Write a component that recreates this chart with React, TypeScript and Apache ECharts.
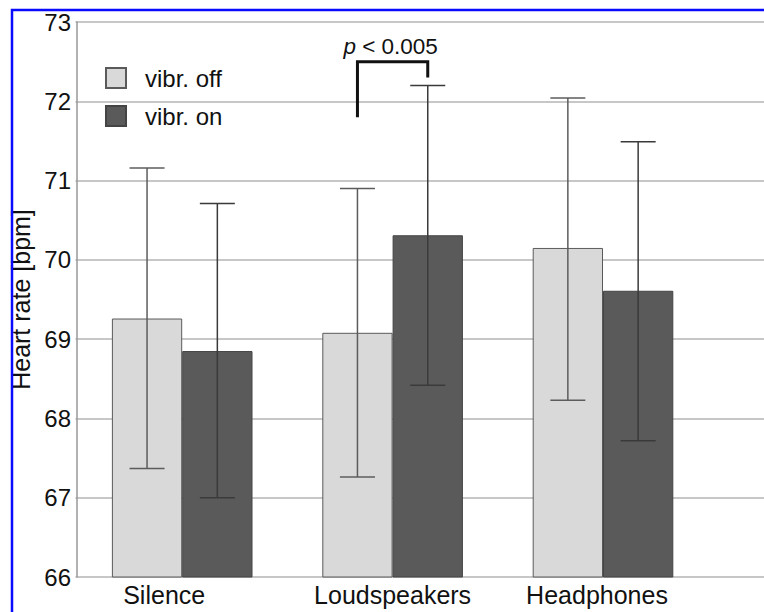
import React, { useEffect, useRef } from "react";
import * as echarts from "echarts";

const categories = ["Silence", "Loudspeakers", "Headphones"];
const seriesNames = ["vibr. off", "vibr. on"];
const offMean = [69.26, 69.08, 70.15];
const offLow = [67.37, 67.26, 68.23];
const offHigh = [71.16, 70.9, 72.04];
const onMean = [68.85, 70.31, 69.61];
const onLow = [67.0, 68.42, 67.72];
const onHigh = [70.71, 72.2, 71.49];
const yMin = 66;
const yMax = 73;
const yInterval = 1;
// significance bracket: category index, left foot, right foot, top level
const bracketData = [[1, 71.8, 72.3, 72.5]];
const bracketLabel = "p < 0.005";

const FONT = "'Liberation Sans', Arial, sans-serif";
const BAR_W = 70.3;
const labelShift: Record<string, number> = { Silence: -18, Loudspeakers: 0, Headphones: -6 };

export default function App() {
  const ref = useRef<HTMLDivElement>(null);
  useEffect(() => {
    if (!ref.current) return;
    const chart = echarts.init(ref.current, undefined, { renderer: "svg" });

    const errSeries = (low: number[], high: number[], offset: number, color: string) => ({
      type: "custom",
      xAxisIndex: 0,
      yAxisIndex: 0,
      z: 5,
      clip: false,
      silent: true,
      encode: { x: 0, y: [1, 2] },
      data: low.map((l, i) => [i, l, high[i]]),
      renderItem: (params: any, api: any) => {
        const top = api.coord([api.value(0), api.value(2)]);
        const bot = api.coord([api.value(0), api.value(1)]);
        const cx = top[0] + offset;
        const cap = 17.5;
        const st = { stroke: color, lineWidth: 1.5 };
        return {
          type: "group",
          children: [
            { type: "line", shape: { x1: cx, y1: top[1], x2: cx, y2: bot[1] }, style: st },
            { type: "line", shape: { x1: cx - cap, y1: top[1], x2: cx + cap, y2: top[1] }, style: st },
            { type: "line", shape: { x1: cx - cap, y1: bot[1], x2: cx + cap, y2: bot[1] }, style: st },
          ],
        };
      },
    });

    const rich: Record<string, any> = {};
    categories.forEach((c) => {
      const s = labelShift[c] || 0;
      rich[c] = {
        fontSize: 25,
        fontFamily: FONT,
        color: "#111",
        padding: s < 0 ? [0, -2 * s, 0, 0] : [0, 0, 0, 2 * s],
      };
    });

    chart.setOption({
      animation: false,
      backgroundColor: "#fff",
      graphic: [
        {
          type: "rect",
          silent: true,
          z: 100,
          shape: { x: 12, y: 10, width: 900, height: 800 },
          style: { fill: "none", stroke: "#0a0aff", lineWidth: 2.5 },
        },
      ],
      legend: {
        orient: "vertical",
        left: 100,
        top: 61,
        itemWidth: 20,
        itemHeight: 20,
        itemGap: 14,
        icon: "rect",
        data: seriesNames,
        textStyle: { fontSize: 24, fontFamily: FONT, color: "#111", padding: [0, 0, 0, 14] },
      },
      grid: [
        { left: 75.5, top: 22, width: 632.7, bottom: 35 },
        { left: 75.5, top: 22, right: -20, bottom: 35 },
      ],
      xAxis: [
        {
          type: "category",
          gridIndex: 0,
          data: categories,
          axisLine: { show: false },
          axisTick: { show: false },
          splitLine: { show: false },
          axisLabel: {
            interval: 0,
            hideOverlap: false,
            margin: 5,
            fontSize: 25,
            fontFamily: FONT,
            color: "#111",
            formatter: (v: string) => `{${v}|${v}}`,
            rich,
          },
        },
        { type: "value", gridIndex: 1, show: false, min: 0, max: 1 },
      ],
      yAxis: [
        {
          type: "value",
          gridIndex: 0,
          min: yMin,
          max: yMax,
          interval: yInterval,
          axisLine: { show: true, lineStyle: { color: "#999", width: 1.5 } },
          axisTick: { show: false },
          splitLine: { show: false },
          axisLabel: { fontSize: 24, fontFamily: FONT, color: "#111", margin: 6 },
          name: "Heart rate [bpm]",
          nameLocation: "middle",
          nameGap: 44,
          nameTextStyle: { fontSize: 25, fontFamily: FONT, color: "#111" },
        },
        {
          type: "value",
          gridIndex: 1,
          min: yMin,
          max: yMax,
          interval: yInterval,
          axisLine: { show: false },
          axisTick: { show: false },
          axisLabel: { show: false },
          splitLine: { show: true, lineStyle: { color: "#b5b5b5", width: 1.5 } },
        },
      ],
      series: [
        {
          name: seriesNames[0],
          type: "bar",
          xAxisIndex: 0,
          yAxisIndex: 0,
          data: offMean,
          barWidth: BAR_W,
          barGap: "0%",
          itemStyle: { color: "#d9d9d9", borderColor: "#5a5a5a", borderWidth: 1 },
        },
        {
          name: seriesNames[1],
          type: "bar",
          xAxisIndex: 0,
          yAxisIndex: 0,
          data: onMean,
          barWidth: BAR_W,
          barGap: "0%",
          itemStyle: { color: "#5a5a5a", borderColor: "#444", borderWidth: 1 },
        },
        errSeries(offLow, offHigh, -BAR_W / 2, "#5c5c5c"),
        errSeries(onLow, onHigh, BAR_W / 2, "#3a3a3a"),
        {
          type: "custom",
          xAxisIndex: 0,
          yAxisIndex: 0,
          z: 6,
          clip: false,
          silent: true,
          data: bracketData,
          renderItem: (params: any, api: any) => {
            const idx = api.value(0);
            const pl = api.coord([idx, api.value(1)]);
            const pr = api.coord([idx, api.value(2)]);
            const pt = api.coord([idx, api.value(3)]);
            const xl = pl[0] - BAR_W / 2;
            const xr = pl[0] + BAR_W / 2;
            return {
              type: "group",
              children: [
                {
                  type: "polyline",
                  shape: { points: [[xl, pl[1]], [xl, pt[1]], [xr, pt[1]], [xr, pr[1]]] },
                  style: { stroke: "#111", lineWidth: 3, fill: "none" },
                },
                {
                  type: "text",
                  x: pl[0] - 2,
                  y: pt[1] - 15,
                  style: {
                    text: "{i|p}" + bracketLabel.slice(1),
                    fontSize: 22.5,
                    fontFamily: FONT,
                    fill: "#111",
                    align: "center",
                    verticalAlign: "middle",
                    rich: { i: { fontStyle: "italic", fontSize: 22.5, fontFamily: FONT, fill: "#111" } },
                  },
                },
              ],
            };
          },
        },
      ],
    });
    return () => chart.dispose();
  }, []);
  return (
    <div
      ref={ref}
      style={{ position: "fixed", left: 0, top: 0, width: 764, height: 612, background: "#fff" }}
    />
  );
}
